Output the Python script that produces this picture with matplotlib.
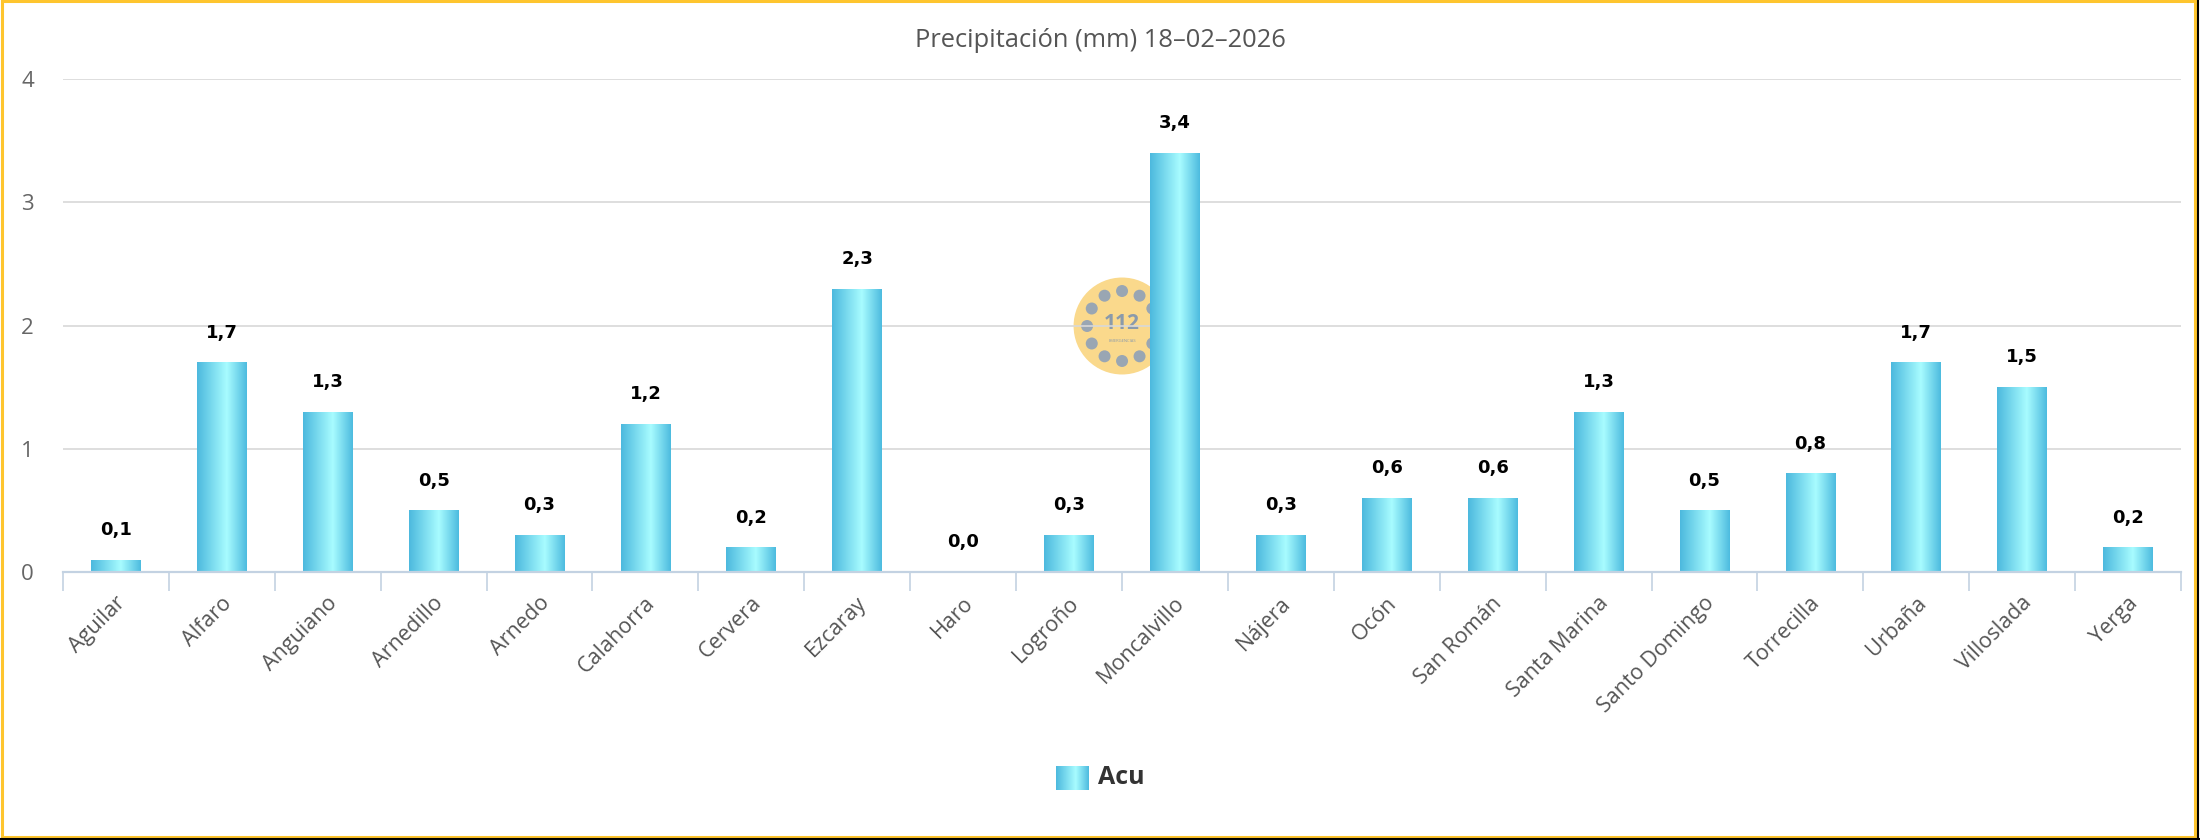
import numpy as np
import matplotlib
matplotlib.use('Agg')
import matplotlib.pyplot as plt
from matplotlib.colors import LinearSegmentedColormap
from matplotlib.patches import Circle, Rectangle
from matplotlib.lines import Line2D
from matplotlib.transforms import ScaledTranslation

plt.rcParams['font.family'] = ['Open Sans', 'DejaVu Sans']

# data
stations = ['Aguilar', 'Alfaro', 'Anguiano', 'Arnedillo', 'Arnedo', 'Calahorra',
            'Cervera', 'Ezcaray', 'Haro', 'Logroño', 'Moncalvillo', 'Nájera',
            'Ocón', 'San Román', 'Santa Marina', 'Santo Domingo', 'Torrecilla',
            'Urbaña', 'Villoslada', 'Yerga']
values = [0.1, 1.7, 1.3, 0.5, 0.3, 1.2, 0.2, 2.3, 0.0, 0.3, 3.4, 0.3,
          0.6, 0.6, 1.3, 0.5, 0.8, 1.7, 1.5, 0.2]
yticks = [0, 1, 2, 3, 4]
title = 'Precipitación (mm) 18–02–2026'
series_name = 'Acu'

bar_cmap = LinearSegmentedColormap.from_list(
    'bar', [(0.0, '#4cb9de'), (0.6, '#a8fcff'), (1.0, '#4dbbdf')])
grad = np.linspace(0, 1, 128).reshape(1, -1)

fig = plt.figure(figsize=(22, 8.4), dpi=100)

# watermark (112 logo) behind the plot
wm = fig.add_axes([0.4873, 0.5524, 0.04545, 0.119], zorder=0)
wm.set_xlim(-1, 1)
wm.set_ylim(-1, 1)
wm.set_aspect('equal')
wm.axis('off')
wm.add_patch(Circle((0, 0), 0.97, facecolor='#fad98c', edgecolor='none'))
for a in np.deg2rad(np.arange(0, 360, 30)):
    wm.add_patch(Circle((0.7 * np.cos(a), 0.7 * np.sin(a)), 0.12,
                        facecolor='#99a6b3', edgecolor='none'))
wm.text(0, 0.05, '112', ha='center', va='center', fontsize=15,
        fontweight='bold', color='#8a9aab')
wm.text(0, -0.3, 'EMERGENCIAS', ha='center', va='center', fontsize=3,
        color='#8a9aab')

ax = fig.add_axes([0.0286, 0.319, 0.9628, 0.587], zorder=1)
ax.set_facecolor('none')

x = np.arange(len(stations))
bars = ax.bar(x, values, width=0.47, facecolor='none', edgecolor='none')
for b in bars:
    if b.get_height() <= 0:
        continue
    im = ax.imshow(grad, cmap=bar_cmap, aspect='auto', zorder=2,
                   extent=[b.get_x(), b.get_x() + b.get_width(), 0, b.get_height()])
    im.set_clip_path(b)

for xi, v in zip(x, values):
    ax.annotate(f'{v:.1f}'.replace('.', ','), (xi, v), xytext=(0, 21.5),
                textcoords='offset points', ha='center', va='center',
                fontsize=13, fontweight='bold', color='black',
                family='DejaVu Sans', zorder=4)

ax.set_xlim(-0.5, len(stations) - 0.5)
ax.set_ylim(0, 4)

ax.set_yticks(yticks)
ax.set_yticklabels([str(t) for t in yticks])
ax.tick_params(axis='y', length=0, pad=21, labelsize=16, labelcolor='#666666')
ax.yaxis.grid(True, color='#d8d8d8', linewidth=1.2)
ax.set_axisbelow(True)

ax.set_xticks(x)
ax.set_xticklabels(stations, rotation=45, ha='right', va='baseline',
                   rotation_mode='anchor')
ax.tick_params(axis='x', which='major', length=0, pad=23, labelsize=15.5,
               labelcolor='#555555')
ax.set_xticks(np.arange(-0.5, len(stations), 1), minor=True)
ax.tick_params(axis='x', which='minor', length=14, width=1.2, color='#c3d2e2',
               direction='out')
nudge = ScaledTranslation(7.5 / 72, 0, fig.dpi_scale_trans)
for lab in ax.get_xticklabels():
    lab.set_transform(lab.get_transform() + nudge)

for s in ['top', 'right', 'left']:
    ax.spines[s].set_visible(False)
ax.spines['bottom'].set_color('#c3d2e2')
ax.spines['bottom'].set_linewidth(1.6)
ax.spines['bottom'].set_zorder(3)

fig.text(0.5, 0.952, title, ha='center', va='center', fontsize=18.4,
         color='#555555')

# legend
lg = fig.add_axes([0.48, 0.0595, 0.01455, 0.0286])
lg.imshow(grad, cmap=bar_cmap, aspect='auto')
lg.axis('off')
fig.text(0.4992, 0.074, series_name, ha='left', va='center', fontsize=18,
         fontweight='bold', color='#333333')

# border
fig.patches.append(Rectangle((0.0007, 0.0036), 0.9972, 0.9952, transform=fig.transFigure,
                             fill=False, edgecolor='#fec52e', linewidth=2.2))
fig.lines.append(Line2D([0, 1], [0.0012, 0.0012], transform=fig.transFigure,
                        color='black', linewidth=1.5))
fig.lines.append(Line2D([0.9993, 0.9993], [0, 1], transform=fig.transFigure,
                        color='black', linewidth=1.5))

fig.savefig('out.png', dpi=100, facecolor='white')
